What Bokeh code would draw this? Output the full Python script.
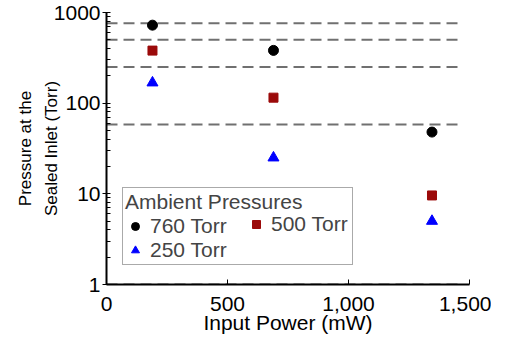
from bokeh.plotting import figure
from bokeh.models import Legend, LegendItem, NumeralTickFormatter, FixedTicker, Range1d
from bokeh.embed import file_html
from bokeh.resources import INLINE

power_mw = [190, 690, 1345]
p760 = [725, 382, 48]
p500 = [380, 115, 9.6]
p250 = [168, 25, 5.0]
ref_levels = [760, 500, 250, 58, 1]
ref_x = [0, 1455]
x_ticks = [0, 500, 1000, 1500]
y_ticks = [1, 10, 100, 1000]
y_minor = [m * d for d in (1, 10, 100) for m in range(2, 10)]

FONT = "Liberation Sans"

p = figure(width=491, height=337, y_axis_type="log", output_backend="svg",
           toolbar_location=None, x_range=Range1d(0, 1500), y_range=Range1d(1, 1000),
           min_border_top=12, min_border_right=22, min_border_left=106, min_border_bottom=53)
p.outline_line_color = None
p.xgrid.visible = False
p.ygrid.visible = False

for lv in ref_levels:
    p.line(ref_x, [lv, lv], line_color="#707070", line_width=2, line_dash="11 6")

r1 = p.scatter(power_mw, p760, marker="circle", size=10, color="black")
r2 = p.scatter(power_mw, p500, marker="square", size=9, color="#9b0a0a")
r3 = p.scatter(power_mw, p250, marker="triangle", size=11, color="#0000ff")

common = dict(label_text_font=FONT, label_text_font_size="21px",
              glyph_width=20, glyph_height=20, label_height=16, label_standoff=5,
              spacing=0, padding=2, margin=0)

legend_a = Legend(items=[LegendItem(label="760 Torr", renderers=[r1]),
                         LegendItem(label="250 Torr", renderers=[r3])],
                  location=(16, 19), title="Ambient Pressures",
                  title_text_font=FONT, title_text_font_size="21px", title_text_font_style="normal",
                  border_line_color="#555555", border_line_width=1,
                  label_width=200, title_standoff=0, **common)
legend_b = Legend(items=[LegendItem(label="500 Torr", renderers=[r2])],
                  location=(140, 48), border_line_color=None,
                  background_fill_alpha=0, **common)
p.add_layout(legend_a, "center")
p.add_layout(legend_b, "center")

p.xaxis.ticker = FixedTicker(ticks=x_ticks)
p.xaxis.formatter = NumeralTickFormatter(format="0,0")
p.yaxis.ticker = FixedTicker(ticks=y_ticks, minor_ticks=y_minor)
p.yaxis.formatter = NumeralTickFormatter(format="0")
p.xaxis.axis_label = "Input Power (mW)"
p.yaxis.axis_label = "Pressure at the\nSealed Inlet (Torr)"

for ax in (p.xaxis[0], p.yaxis[0]):
    ax.axis_line_color = "black"
    ax.axis_line_width = 2
    ax.major_tick_line_color = "black"
    ax.minor_tick_line_color = "black"
    ax.major_label_text_font = FONT
    ax.major_label_text_font_size = "21px"
    ax.major_label_text_color = "black"
    ax.axis_label_text_font = FONT
    ax.axis_label_text_font_size = "21px"
    ax.axis_label_text_font_style = "normal"
    ax.axis_label_text_color = "black"

p.yaxis.axis_label_text_font_size = "17px"
p.yaxis.axis_label_text_line_height = 1.35

p.xaxis.major_tick_in = 5
p.xaxis.major_tick_out = 0
p.xaxis.minor_tick_in = 0
p.xaxis.minor_tick_out = 0
p.xaxis.major_label_standoff = 12
p.xaxis.axis_label_standoff = -3

p.yaxis.major_tick_in = 4
p.yaxis.major_tick_out = 4
p.yaxis.minor_tick_in = 4
p.yaxis.minor_tick_out = 0
p.yaxis.major_label_standoff = 2
p.yaxis.axis_label_standoff = -10

open("out.html", "w").write(file_html(p, INLINE))
